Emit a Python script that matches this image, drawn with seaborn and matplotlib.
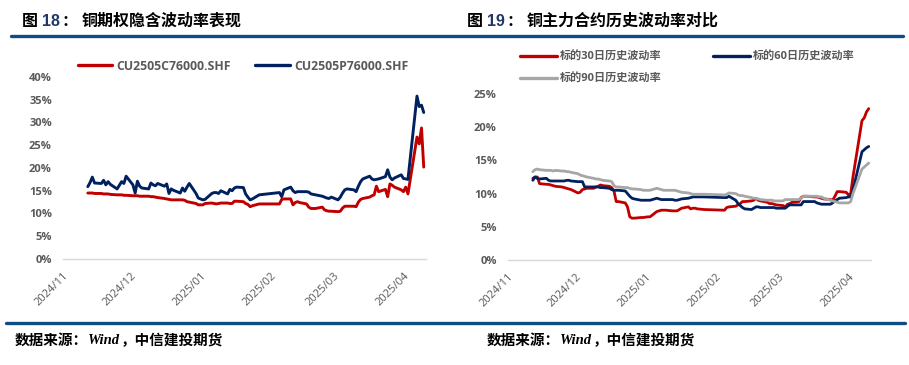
import matplotlib
matplotlib.use('Agg')
import pandas as pd
import matplotlib.pyplot as plt
import matplotlib.dates as mdates
import seaborn as sns
from matplotlib.lines import Line2D
from matplotlib.ticker import PercentFormatter
from matplotlib.transforms import ScaledTranslation

# trading days (SHFE), Nov 12 2024 - Apr 10 2025
holidays = ['2025-01-01', '2025-01-28', '2025-01-29', '2025-01-30', '2025-01-31',
            '2025-02-03', '2025-02-04', '2025-04-04']
dates = pd.bdate_range('2024-11-12', '2025-04-10', freq='C', holidays=holidays)

# fig 18: implied vol (%)
call_iv = [14.5, 14.5, 14.5, 14.4, 14.4, 14.3, 14.3, 14.3, 14.2, 14.1, 14.1, 14.1, 14.0, 14.0,
           13.9, 13.9, 13.9, 13.8, 13.8, 13.8, 13.7, 13.7, 13.6, 13.5, 13.3, 13.2, 13.1, 13.0, 13.0,
           13.0, 13.0, 12.9, 12.6, 12.5, 12.2, 11.9,
           11.9, 12.2, 12.3, 12.2, 12.1, 12.2, 12.3, 12.3, 12.2, 12.2, 12.7, 12.7, 12.6, 12.2, 12.0,
           11.5, 11.7, 12.1,
           12.1, 13.1, 13.2, 13.2, 11.9, 12.4, 12.6, 12.4, 12.1, 11.4, 11.1, 11.1, 11.1, 11.4, 10.8,
           10.6, 10.5, 10.5,
           10.4, 10.5, 11.2, 11.6, 11.6, 11.6, 11.5, 12.5, 13.1, 13.3, 13.6, 13.9, 14.1, 16.0, 14.8,
           15.3, 13.7, 16.5, 16.2, 15.8, 15.2,
           14.8, 15.8, 14.3, 26.8, 25.3, 28.8, 20.2]
put_iv = [15.9, 16.8, 18.0, 16.7, 16.6, 17.3, 16.3, 17.0, 16.4, 15.4, 16.2, 17.0, 16.6, 18.2,
          16.3, 14.5, 17.1, 16.0, 15.6, 15.4, 16.7, 16.3, 16.1, 16.6, 16.0, 16.5, 14.4, 15.4, 15.1,
          14.5, 15.6, 14.9, 15.8, 16.6, 14.4, 13.4,
          13.0, 13.1, 14.4, 14.6, 14.6, 14.4, 15.0, 14.3, 15.3, 15.0, 15.6, 15.8, 15.7, 14.3, 13.6,
          13.0, 13.2, 14.1,
          14.6, 13.7, 15.2, 15.8, 15.0, 14.6, 14.8, 14.8, 14.8, 14.7, 14.3, 14.2, 14.1, 13.8, 13.6,
          13.4, 13.3, 13.6,
          13.0, 13.6, 14.5, 15.2, 15.4, 15.2, 14.8, 16.0, 17.0, 17.6, 18.2, 17.6, 17.4, 17.5, 17.6,
          18.1, 19.6, 18.0, 17.4, 17.8, 18.5,
          17.7, 17.6, 17.5, 35.8, 33.5, 33.8, 32.2]

# fig 19: historical vol (%)
hv30 = [12.3, 12.5, 12.5, 11.5, 11.4, 11.4, 11.3, 11.2, 11.1, 11.0, 10.9, 10.8, 10.7, 10.6,
        10.1, 10.2, 10.6, 10.7, 10.8, 10.8, 11.0, 11.1, 11.3, 11.2, 11.1, 10.9, 10.4, 8.8, 8.8,
        8.6, 8.0, 6.5, 6.3, 6.3, 6.4, 6.4,
        6.5, 6.5, 7.3, 7.4, 7.5, 7.5, 7.5, 7.4, 7.4, 7.4, 7.6, 7.8, 8.0, 7.7, 7.8, 7.8, 7.7, 7.6,
        7.5, 7.9, 8.0, 8.1, 8.3, 8.5, 8.8, 8.8, 8.9, 9.0, 9.3, 9.0, 8.9, 8.7, 8.5, 8.5, 8.4, 8.3,
        8.2, 8.0, 8.4, 8.5, 8.7, 8.8, 9.4, 9.6, 9.6, 9.6, 9.5, 9.5, 9.4, 9.3, 9.2, 9.1, 9.0, 9.6,
        10.3, 10.3, 10.2,
        9.8, 10.0, 12.5, 21.0, 21.4, 22.3, 22.8]
hv60 = [12.0, 12.5, 12.3, 12.2, 12.3, 12.0, 11.9, 11.9, 11.9, 11.9, 11.9, 12.0, 12.0, 11.9,
        11.8, 11.8, 11.8, 11.0, 11.0, 11.0, 11.0, 11.0, 10.9, 10.9, 10.8, 10.6, 10.5, 10.5, 10.5,
        10.4, 10.0, 9.6, 9.3, 9.2, 9.0, 9.0,
        9.0, 9.0, 9.3, 9.2, 9.1, 9.1, 9.1, 9.1, 9.0, 9.0, 9.1, 9.2, 9.3, 9.4, 9.5, 9.5, 9.5, 9.5,
        9.4, 9.4, 9.6, 9.0, 8.5, 8.2, 7.9, 7.7, 7.6, 7.8, 8.0, 8.0, 7.9, 7.9, 7.9, 7.9, 7.9, 7.8,
        7.8, 7.8, 8.1, 8.3, 8.3, 8.3, 8.3, 8.8, 8.8, 8.8, 8.8, 8.6, 8.5, 8.4, 8.4, 8.4, 8.6, 8.9,
        9.1, 9.3, 9.4,
        9.5, 9.5, 10.5, 16.3, 16.6, 16.9, 17.1]
hv90 = [13.3, 13.6, 13.7, 13.6, 13.5, 13.5, 13.5, 13.4, 13.5, 13.4, 13.4, 13.3, 13.3, 13.2,
        13.0, 12.8, 12.7, 12.6, 12.5, 12.3, 12.2, 12.2, 12.1, 12.0, 11.9, 11.8, 11.2, 11.0, 11.0,
        10.9, 10.9, 10.8, 10.7, 10.7, 10.6, 10.5,
        10.5, 10.5, 10.8, 10.7, 10.6, 10.5, 10.5, 10.5, 10.5, 10.4, 10.3, 10.2, 10.1, 10.0, 9.9,
        9.9, 9.9, 9.9,
        9.8, 9.9, 10.1, 10.0, 9.8, 9.7, 9.7, 9.6, 9.4, 9.3, 9.3, 9.2, 9.1, 9.0, 9.0, 9.0, 8.9, 8.9,
        8.9, 9.1, 9.1, 9.1, 9.1, 9.1, 9.3, 9.6, 9.6, 9.6, 9.6, 9.6, 9.5, 9.5, 9.3, 9.0, 8.9, 8.8,
        8.7, 8.6, 8.6,
        8.6, 8.8, 10.0, 13.7, 14.0, 14.3, 14.6]

iv_names = ['CU2505C76000.SHF', 'CU2505P76000.SHF']
hv_names = ['标的30日历史波动率', '标的60日历史波动率', '标的90日历史波动率']
RED, NAVY, GREY = '#C00000', '#002060', '#A6A6A6'
TXT = '#595959'

sns.set_theme(style='white')
plt.rcParams['font.family'] = ['Open Sans', 'Noto Sans CJK SC', 'DejaVu Sans']
plt.rcParams['axes.unicode_minus'] = False

W, H = 909, 365
fig = plt.figure(figsize=(W / 100, H / 100), dpi=100)
fig.patch.set_facecolor('white')


def box(x0, x1, y_top, y_bot):
    return [x0 / W, 1 - y_bot / H, (x1 - x0) / W, (y_bot - y_top) / H]


ax1 = fig.add_axes(box(63, 426, 77, 259))
ax2 = fig.add_axes(box(508, 871, 94, 260))

iv_df = pd.DataFrame({'date': dates, iv_names[0]: call_iv, iv_names[1]: put_iv})
iv_df = iv_df.melt('date', var_name='series', value_name='vol')
hv_df = pd.DataFrame({'date': dates, hv_names[0]: hv30, hv_names[1]: hv60, hv_names[2]: hv90})
hv_df = hv_df.melt('date', var_name='series', value_name='vol')

sns.lineplot(data=iv_df, x='date', y='vol', hue='series', palette=[RED, NAVY],
             linewidth=2.1, ax=ax1, legend=False)
sns.lineplot(data=hv_df, x='date', y='vol', hue='series', palette=[RED, NAVY, GREY],
             linewidth=2.0, ax=ax2, legend=False)

for ax, top in [(ax1, 40), (ax2, 25)]:
    ax.set_ylim(0, top)
    ax.set_yticks(range(0, top + 1, 5))
    ax.yaxis.set_major_formatter(PercentFormatter(100, decimals=0))
    ax.set_xlim(pd.Timestamp('2024-11-01'), pd.Timestamp('2025-04-11'))
    ax.xaxis.set_major_locator(mdates.MonthLocator())
    ax.xaxis.set_major_formatter(mdates.DateFormatter('%Y/%m'))
    ax.set_xlabel('')
    ax.set_ylabel('')
    for s in ['top', 'right', 'left']:
        ax.spines[s].set_visible(False)
    ax.spines['bottom'].set_color('#D9D9D9')
    ax.spines['bottom'].set_linewidth(1)
    ax.tick_params(axis='both', length=0)
    ax.tick_params(axis='y', pad=8, labelsize=8, labelcolor=TXT)
    ax.tick_params(axis='x', pad=11, labelsize=8, labelcolor=TXT)
    for lab in ax.get_yticklabels():
        lab.set_fontweight('bold')
    shift = ScaledTranslation(4 / 100, 0, fig.dpi_scale_trans)
    for lab in ax.get_xticklabels():
        lab.set_rotation(45)
        lab.set_ha('right')
        lab.set_va('center')
        lab.set_rotation_mode('anchor')
        lab.set_transform(lab.get_transform() + shift)
    ax.grid(False)

leg_font = {'family': ['Open Sans', 'Noto Sans CJK SC'], 'weight': 'bold', 'size': 8.8}
h1 = [Line2D([], [], color=c, lw=2.4) for c in [RED, NAVY]]
leg1 = fig.legend(h1, iv_names, loc='center left', bbox_to_anchor=(78 / W, 1 - 66 / H),
                  ncol=2, frameon=False, prop=leg_font, handlelength=2.8, handletextpad=0.35,
                  columnspacing=2.0, borderpad=0, borderaxespad=0)
for t in leg1.get_texts():
    t.set_color(TXT)

leg_font2 = dict(leg_font, size=8)
h2 = [Line2D([], [], color=c, lw=2.4) for c in [RED, GREY, NAVY]]
leg2 = fig.legend(h2, [hv_names[0], hv_names[2], hv_names[1]], loc='upper left',
                  bbox_to_anchor=(520 / W, 1 - 52 / H), ncol=2, frameon=False, prop=leg_font2,
                  handlelength=3.3, handletextpad=0.3, columnspacing=4.6, labelspacing=0.95,
                  borderpad=0, borderaxespad=0)
for t in leg2.get_texts():
    t.set_color(TXT)

# titles
title_kw = dict(fontsize=11.5, fontweight='bold', va='center', color='black',
                family=['Noto Sans CJK SC', 'DejaVu Sans'])
for x0, num, rest in [(22, '18', '铜期权隐含波动率表现'), (467, '19', '铜主力合约历史波动率对比')]:
    fig.text(x0 / W, 1 - 21 / H, '图', **title_kw)
    fig.text((x0 + 20) / W, 1 - 21 / H, num, fontsize=11.5, fontweight='bold', va='center',
             color='#1F3864', family='Liberation Sans')
    fig.text((x0 + 47.5) / W, 1 - 21 / H, '：', ha='center', **title_kw)
    fig.text((x0 + 60) / W, 1 - 21 / H, rest, **title_kw)

fig.add_artist(Line2D([11 / W, 903 / W], [1 - 36 / H] * 2, color='#0F4C81', lw=2.4))
fig.add_artist(Line2D([6 / W, 905 / W], [1 - 322.5 / H] * 2, color='#0F4C81', lw=2.4))

# source notes
renderer = fig.canvas.get_renderer()
src_kw = dict(fontsize=10.5, fontweight='bold', va='center', color='black')
for x0 in [15, 487]:
    x = x0
    for s, fam, style in [('数据来源：', 'Noto Sans CJK SC', 'normal'),
                          ('Wind', 'Liberation Serif', 'italic'),
                          ('，中信建投期货', 'Noto Sans CJK SC', 'normal')]:
        t = fig.text(x / W, 1 - 340 / H, s, family=fam, style=style, **src_kw)
        x = t.get_window_extent(renderer).x1

fig.savefig('out.png', dpi=100)
